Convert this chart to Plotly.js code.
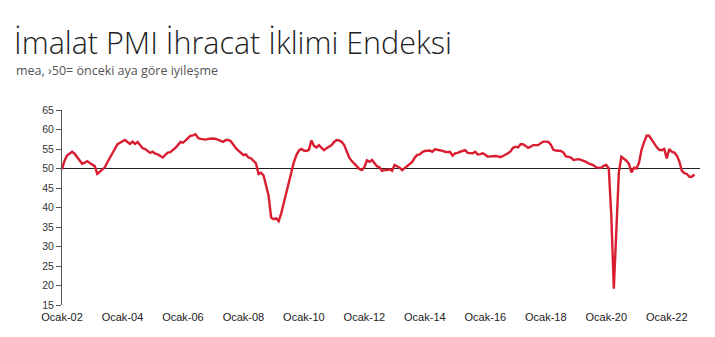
<!DOCTYPE html>
<html>
<head>
<meta charset="utf-8">
<script src="https://cdn.plot.ly/plotly-3.0.1.min.js"></script>
<style>html,body{margin:0;padding:0;background:#fff;}#chart{width:715px;height:337px;}</style>
</head>
<body>
<div id="chart"></div>
<script>
// Monthly index values, Jan 2002 - Dec 2022
const v2002 = [49.8, 52.0, 53.3, 53.9, 54.3, 53.8, 52.9, 52.0, 51.2, 51.5, 51.9, 51.4];
const v2003 = [51.0, 50.6, 48.6, 49.2, 49.8, 50.3, 51.6, 52.8, 54.0, 55.2, 56.2, 56.6];
const v2004 = [56.9, 57.3, 56.8, 56.3, 56.9, 56.3, 56.8, 56.0, 55.2, 55.0, 54.6, 54.0];
const v2005 = [54.3, 53.8, 53.6, 53.3, 52.8, 53.5, 54.1, 54.2, 54.7, 55.3, 56.0, 56.8];
const v2006 = [56.6, 57.3, 57.8, 58.4, 58.5, 58.8, 57.8, 57.6, 57.5, 57.4, 57.6, 57.7];
const v2007 = [57.7, 57.6, 57.3, 57.0, 56.8, 57.3, 57.3, 57.0, 56.0, 55.2, 54.6, 54.0];
const v2008 = [53.4, 53.6, 52.8, 52.6, 51.9, 51.3, 48.6, 48.9, 48.2, 45.6, 43.0, 37.4];
const v2009 = [37.0, 37.2, 36.5, 38.5, 41.0, 43.6, 46.4, 49.2, 51.6, 53.4, 54.6, 55.0];
const v2010 = [54.6, 54.5, 54.8, 57.2, 55.8, 55.4, 56.0, 55.3, 54.7, 55.2, 55.7, 56.0];
const v2011 = [56.8, 57.3, 57.2, 56.8, 56.0, 54.4, 52.8, 51.9, 51.2, 50.4, 49.9, 49.6];
const v2012 = [50.3, 52.1, 51.7, 52.2, 51.3, 50.6, 50.3, 49.4, 49.6, 49.6, 49.8, 49.4];
const v2013 = [50.9, 50.6, 50.2, 49.6, 50.1, 50.5, 51.0, 51.7, 52.8, 53.5, 53.6, 54.2];
const v2014 = [54.5, 54.5, 54.6, 54.3, 54.9, 54.8, 54.7, 54.5, 54.3, 54.2, 54.3, 53.3];
const v2015 = [53.9, 54.0, 54.3, 54.6, 54.7, 54.0, 53.9, 53.9, 54.3, 53.6, 53.7, 53.9];
const v2016 = [53.5, 53.0, 53.1, 53.2, 53.2, 53.1, 52.9, 53.2, 53.5, 53.9, 54.4, 55.3];
const v2017 = [55.6, 55.4, 56.2, 56.2, 55.8, 55.3, 55.6, 56.0, 56.0, 56.0, 56.5, 56.9];
const v2018 = [56.9, 56.8, 56.1, 54.8, 54.6, 54.5, 54.5, 54.1, 53.1, 53.0, 52.8, 52.2];
const v2019 = [52.3, 52.4, 52.2, 52.0, 51.7, 51.3, 51.1, 50.8, 50.3, 50.2, 50.2, 50.7];
const v2020 = [50.9, 50.0, 38.0, 19.2, 34.5, 49.0, 53.0, 52.6, 52.0, 51.2, 49.0, 50.2];
const v2021 = [50.0, 51.5, 54.8, 56.7, 58.4, 58.4, 57.4, 56.3, 55.5, 54.8, 54.7, 55.0];
const v2022 = [52.6, 55.0, 54.3, 54.1, 53.3, 51.8, 49.4, 48.8, 48.6, 47.9, 47.9, 48.5];

const tickLabels = ["Ocak-02","Ocak-04","Ocak-06","Ocak-08","Ocak-10","Ocak-12","Ocak-14","Ocak-16","Ocak-18","Ocak-20","Ocak-22"];
const yTicks = [15,20,25,30,35,40,45,50,55,60,65];
const threshold = 50;

const values = [].concat(v2002,v2003,v2004,v2005,v2006,v2007,v2008,v2009,v2010,v2011,
  v2012,v2013,v2014,v2015,v2016,v2017,v2018,v2019,v2020,v2021,v2022);
const monthIdx = values.map((_, i) => i);
const tickVals = tickLabels.map((_, i) => i * 24);

const trace = {
  x: monthIdx, y: values, type: 'scatter', mode: 'lines',
  line: {color: '#d91e32', width: 2.4, shape: 'linear'},
  hoverinfo: 'skip'
};

const layout = {
  width: 715, height: 337,
  paper_bgcolor: '#fff', plot_bgcolor: '#fff',
  margin: {l: 62, r: 15, t: 110, b: 32},
  showlegend: false,
  title: {
    text: 'İmalat PMI İhracat İklimi Endeksi',
    font: {family: 'Open Sans', size: 30.5, color: '#222', weight: 300},
    x: 14/715, xref: 'container', xanchor: 'left',
    y: 1 - 43/337, yref: 'container', yanchor: 'middle'
  },
  annotations: [{
    text: 'mea, ›50= önceki aya göre iyileşme',
    xref: 'paper', yref: 'paper', x: (14-62)/638, y: 1 + (110-70)/195,
    xanchor: 'left', yanchor: 'middle', showarrow: false,
    font: {family: 'Open Sans', size: 12.5, color: '#555'}
  }],
  xaxis: {
    range: [0, 253.2], showgrid: false, zeroline: false, showline: false,
    tickmode: 'array', tickvals: tickVals, ticktext: tickLabels,
    ticks: '', tickfont: {family: 'Liberation Sans, Arial', size: 11, color: '#222'},
    ticklabelstandoff: 4
  },
  yaxis: {
    range: [15, 65], showgrid: false, zeroline: false,
    showline: true, linecolor: '#555', linewidth: 1,
    tickmode: 'array', tickvals: yTicks,
    ticks: 'outside', ticklen: 5, tickcolor: '#555',
    tickfont: {family: 'Liberation Sans, Arial', size: 10.5, color: '#333'}
  },
  shapes: [{
    type: 'line', xref: 'paper', yref: 'y', x0: 0, x1: 1, y0: threshold, y1: threshold,
    line: {color: '#222', width: 1}, layer: 'below'
  }]
};

Plotly.newPlot('chart', [trace], layout, {displayModeBar: false, staticPlot: true});
</script>
</body>
</html>
